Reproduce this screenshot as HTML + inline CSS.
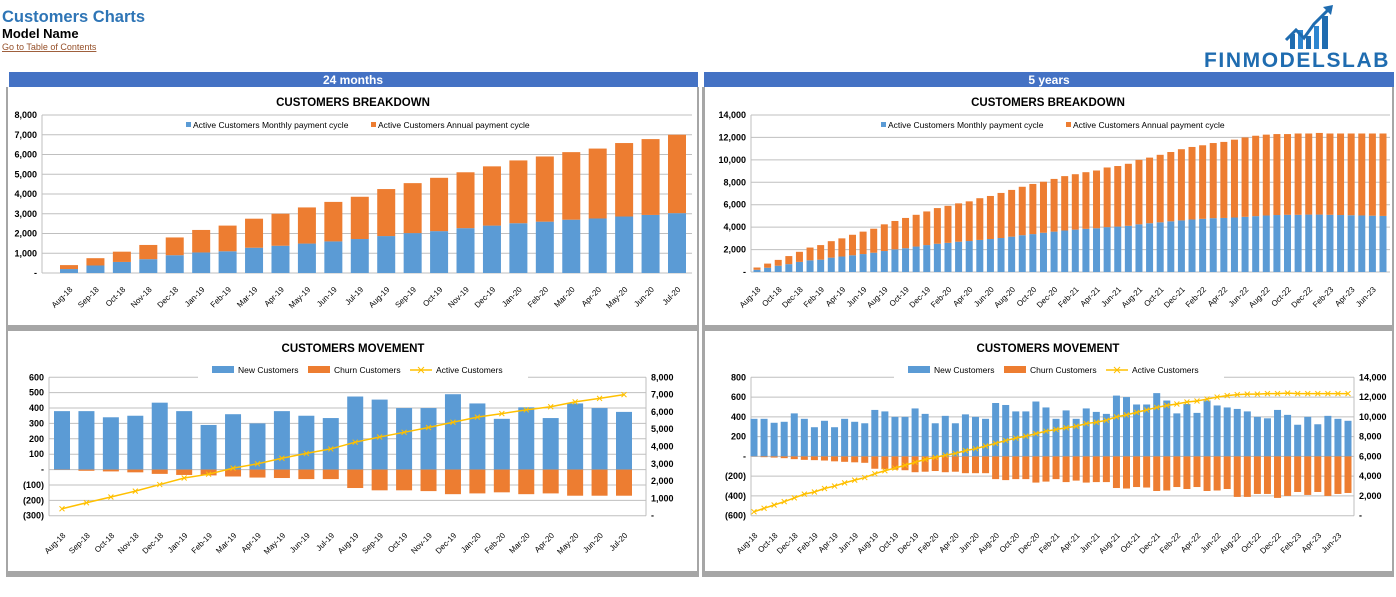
<!DOCTYPE html>
<html><head><meta charset="utf-8"><style>
body{margin:0;background:#fff;width:1396px;height:597px;overflow:hidden;font-family:"Liberation Sans","DejaVu Sans",sans-serif}
svg{position:absolute;left:0;top:0}
</style></head><body>
<svg id="s" width="1396" height="597" xmlns="http://www.w3.org/2000/svg">
<text x="2" y="22" font-size="16.5" font-weight="bold" fill="#2E75B6">Customers Charts</text>
<text x="2" y="38" font-size="13" font-weight="bold" fill="#000">Model Name</text>
<text x="2" y="50" font-size="9" fill="#954F28" text-decoration="underline">Go to Table of Contents</text>
<g>
<rect x="1290" y="34" width="5" height="15" fill="#1F6CB0"/><rect x="1298" y="30" width="5" height="19" fill="#2E86D0"/>
<rect x="1306" y="36" width="5" height="13" fill="#1F6CB0"/><rect x="1314" y="26" width="5" height="23" fill="#2E86D0"/>
<rect x="1322" y="16" width="6" height="33" fill="#1F6CB0"/>
<polyline points="1286,40 1296,30 1304,38 1314,24 1328,10" fill="none" stroke="#1F6CB0" stroke-width="3"/>
<polygon points="1323,7 1333,5 1331,15" fill="#1F6CB0"/>
<text x="1204" y="67" font-size="21" font-weight="bold" fill="#1F6CB0" letter-spacing="1.6">FINMODELSLAB</text>
</g>
<rect x="9" y="72" width="689" height="15" fill="#4472C4"/>
<text x="353" y="84" font-size="12" font-weight="bold" fill="#fff" text-anchor="middle">24 months</text>
<rect x="704" y="72" width="690" height="15" fill="#4472C4"/>
<text x="1049" y="84" font-size="12" font-weight="bold" fill="#fff" text-anchor="middle">5 years</text>
<g fill="#A6A6A6">
<rect x="6" y="87" width="2" height="490"/><rect x="697" y="87" width="2" height="490"/>
<rect x="8" y="325" width="691" height="6"/><rect x="8" y="571" width="691" height="6"/>
<rect x="702" y="87" width="3" height="490"/><rect x="1392" y="87" width="2" height="490"/>
<rect x="704" y="325" width="690" height="6"/><rect x="704" y="571" width="690" height="6"/>
</g>
<g id="g"></g>
</svg>
<script>
const months24 = ["Aug-18","Sep-18","Oct-18","Nov-18","Dec-18","Jan-19","Feb-19","Mar-19","Apr-19","May-19","Jun-19","Jul-19","Aug-19","Sep-19","Oct-19","Nov-19","Dec-19","Jan-20","Feb-20","Mar-20","Apr-20","May-20","Jun-20","Jul-20"];
const total24 = [400,750,1080,1420,1800,2180,2400,2750,3000,3320,3600,3860,4250,4550,4820,5100,5400,5700,5900,6120,6300,6580,6780,7000];
const monthly24 = [200,380,560,700,900,1040,1100,1280,1380,1490,1600,1720,1870,2020,2120,2270,2400,2520,2600,2700,2760,2860,2940,3030];
const new24 = [380,380,340,350,435,380,290,360,300,380,350,335,475,455,400,400,490,430,330,405,335,430,400,375];
const churn24 = [-2,-8,-12,-18,-28,-35,-38,-45,-52,-55,-62,-62,-120,-135,-135,-140,-160,-155,-148,-160,-155,-170,-170,-170];
const months60 = ["Aug-18","Sep-18","Oct-18","Nov-18","Dec-18","Jan-19","Feb-19","Mar-19","Apr-19","May-19","Jun-19","Jul-19","Aug-19","Sep-19","Oct-19","Nov-19","Dec-19","Jan-20","Feb-20","Mar-20","Apr-20","May-20","Jun-20","Jul-20","Aug-20","Sep-20","Oct-20","Nov-20","Dec-20","Jan-21","Feb-21","Mar-21","Apr-21","May-21","Jun-21","Jul-21","Aug-21","Sep-21","Oct-21","Nov-21","Dec-21","Jan-22","Feb-22","Mar-22","Apr-22","May-22","Jun-22","Jul-22","Aug-22","Sep-22","Oct-22","Nov-22","Dec-22","Jan-23","Feb-23","Mar-23","Apr-23","May-23","Jun-23","Jul-23"];
const total60 = [400,750,1080,1420,1800,2180,2400,2750,3000,3320,3600,3860,4250,4550,4820,5100,5400,5700,5900,6120,6300,6580,6780,7050,7320,7600,7850,8050,8300,8550,8720,8900,9050,9320,9450,9650,10000,10200,10450,10700,10950,11150,11300,11500,11600,11800,12000,12150,12250,12300,12300,12350,12350,12400,12350,12350,12350,12350,12350,12350];
const monthly60 = [200,380,560,700,900,1040,1100,1280,1380,1490,1600,1720,1870,2020,2120,2270,2400,2520,2600,2700,2760,2860,2940,3030,3150,3280,3380,3500,3600,3700,3780,3850,3900,4000,4050,4120,4250,4350,4430,4520,4600,4680,4740,4800,4820,4860,4920,4980,5040,5080,5100,5100,5120,5120,5100,5080,5060,5040,5020,5000];
const new60 = [380,380,340,350,435,380,295,360,295,380,350,335,470,455,400,400,485,430,335,410,335,425,400,380,540,520,455,455,555,495,380,465,380,485,450,430,615,600,525,525,640,565,435,530,440,565,515,495,480,455,400,385,470,420,320,400,325,410,380,360];
const churn60 = [-2,-8,-12,-18,-28,-35,-38,-42,-50,-55,-60,-65,-125,-130,-135,-140,-160,-155,-148,-160,-155,-170,-170,-170,-230,-240,-230,-230,-265,-255,-230,-260,-245,-265,-260,-260,-320,-325,-310,-315,-350,-345,-310,-330,-310,-350,-345,-330,-410,-410,-380,-380,-420,-400,-360,-390,-360,-400,-380,-370];
const ticksBreak24 = [0,1000,2000,3000,4000,5000,6000,7000,8000];
const ticksBreak60 = [0,2000,4000,6000,8000,10000,12000,14000];
const ticksMove24 = [-300,-200,-100,0,100,200,300,400,500,600];
const ticksMove24R = [0,1000,2000,3000,4000,5000,6000,7000,8000];
const ticksMove60 = [-600,-400,-200,0,200,400,600,800];
const ticksMove60R = [0,2000,4000,6000,8000,10000,12000,14000];

const NS="http://www.w3.org/2000/svg", G=document.getElementById('g');
const BLUE="#5B9BD5", ORANGE="#ED7D31", GOLD="#FFC000";
function mk(tag,attrs,parent){const e=document.createElementNS(NS,tag);for(const k in attrs)e.setAttribute(k,attrs[k]);(parent||G).appendChild(e);return e;}
function fmt(v){if(v===0)return "-";const s=Math.abs(v).toLocaleString("en-US");return v<0?"("+s+")":s;}
function txt(x,y,s,size,anchor,weight,parent){const t=mk('text',{x:x,y:y,'font-size':size,'text-anchor':anchor||'start','font-weight':weight||'normal',fill:'#000'},parent);t.textContent=s;return t;}

function axisFns(c){
  const n=c.n, step=(c.lastX-c.firstX)/(n-1);
  const xs=i=>c.firstX+i*step;
  const ys=v=>c.y0+(v-c.vmin)/(c.vmax-c.vmin)*(c.y1-c.y0);
  return {xs,ys};
}
function grid(c,ys,ticks,g){
  ticks.forEach(v=>{
    const y=ys(v);
    const l=mk('line',{x1:c.left,x2:c.right,y1:y,y2:y,stroke:'#BFBFBF','stroke-width':1},g);
    
    
    const t=txt(c.left-5,y+3,fmt(v),9,'end','bold',g);
    
    
  });
  mk('line',{x1:c.left,x2:c.left,y1:c.y1,y2:c.y0,stroke:'#BFBFBF'},g);
}
function xlabels(c,xs,labels,every,g){
  labels.forEach((m,i)=>{
    if(i%every)return;
    const x=xs(i)+4,y=c.labY;
    const t=txt(x,y,m,8,'end','normal',g);
    t.setAttribute('transform','rotate(-45 '+x+' '+y+')');
    
    
  });
}
function legendItem(x,y,color,label,kind,g){
  if(kind==='line'){mk('line',{x1:x,x2:x+22,y1:y,y2:y,stroke:GOLD,'stroke-width':1.5},g);
    mk('path',{d:`M${x+8} ${y-3}l6 6M${x+14} ${y-3}l-6 6`,stroke:GOLD,'stroke-width':1},g);txt(x+26,y+3,label,8.5,'start','normal',g);}
  else if(kind==='wide'){mk('rect',{x:x,y:y-4,width:22,height:7,fill:color},g);txt(x+26,y+3,label,8.5,'start','normal',g);}
  else {mk('rect',{x:x,y:y-3,width:5,height:5,fill:color},g);txt(x+7,y+3,label,8.5,'start','normal',g);}
}

function breakdown(c,labels,total,monthly,ticks,every,name){
  const g=mk('g',{});
  
  
  const {xs,ys}=axisFns(c);
  txt(c.titleX,106,'CUSTOMERS BREAKDOWN',11.5,'middle','bold',g);
  grid(c,ys,ticks,g);
  const lg=mk('g',{},g);
  
  
  mk('rect',{x:c.legX-4,y:118,width:350,height:14,fill:'#fff'},lg);
  legendItem(c.legX,125,BLUE,'Active Customers Monthly payment cycle','sq',lg);
  legendItem(c.legX+185,125,ORANGE,'Active Customers Annual payment cycle','sq',lg);
  total.forEach((t,i)=>{
    const x=xs(i)-c.bw/2, m=monthly[i];
    const b=mk('rect',{x:x,y:ys(m),width:c.bw,height:ys(0)-ys(m),fill:BLUE},g);
    
    
    const o=mk('rect',{x:x,y:ys(t),width:c.bw,height:ys(m)-ys(t),fill:ORANGE},g);
    
    
  });
  xlabels(c,xs,labels,every,g);
}
function movement(c,labels,nw,churn,active,ticks,ticksR,every,name){
  const g=mk('g',{});
  
  
  const {xs,ys}=axisFns(c);
  const yr=v=>c.y0+(v-c.rmin)/(c.rmax-c.rmin)*(c.y1-c.y0);
  txt(c.titleX,352,'CUSTOMERS MOVEMENT',11.5,'middle','bold',g);
  grid(c,ys,ticks,g);
  mk('line',{x1:c.right,x2:c.right,y1:c.y1,y2:c.y0,stroke:'#BFBFBF'},g);
  ticksR.forEach(v=>{const t=txt(c.right+5,yr(v)+3,fmt(v),9,'start','bold',g);
    
    });
  const lg=mk('g',{},g);
  
  
  mk('rect',{x:c.legX-14,y:362,width:330,height:16,fill:'#fff'},lg);
  legendItem(c.legX,370,BLUE,'New Customers','wide',lg);
  legendItem(c.legX+96,370,ORANGE,'Churn Customers','wide',lg);
  legendItem(c.legX+198,370,GOLD,'Active Customers','line',lg);
  nw.forEach((v,i)=>{
    const x=xs(i)-c.bw/2;
    const b=mk('rect',{x:x,y:ys(v),width:c.bw,height:ys(0)-ys(v),fill:BLUE},g);
    
    
    const o=mk('rect',{x:x,y:ys(0),width:c.bw,height:ys(churn[i])-ys(0),fill:ORANGE},g);
    
    
  });
  const pts=active.map((v,i)=>xs(i)+','+yr(v)).join(' ');
  const pl=mk('polyline',{points:pts,fill:'none',stroke:GOLD,'stroke-width':1.5},g);
  
  
  active.forEach((v,i)=>{const x=xs(i),y=yr(v);
    mk('path',{d:`M${x-2.5} ${y-2.5}l5 5M${x+2.5} ${y-2.5}l-5 5`,stroke:GOLD,'stroke-width':1},g);});
  xlabels(c,xs,labels,every,g);
}

breakdown({n:24,firstX:69,lastX:677,left:42,right:692,y0:273,y1:115,vmin:0,vmax:8000,bw:18,labY:290,titleX:353,legX:186},months24,total24,monthly24,ticksBreak24,1,'chart-breakdown-24m');
breakdown({n:60,firstX:757,lastX:1383,left:751,right:1390,y0:272,y1:115,vmin:0,vmax:14000,bw:7,labY:290,titleX:1048,legX:881},months60,total60,monthly60,ticksBreak60,2,'chart-breakdown-5y');
movement({n:24,firstX:62,lastX:624,left:49,right:646,y0:515.7,y1:377.3,vmin:-300,vmax:600,rmin:0,rmax:8000,bw:16,labY:536,titleX:353,legX:212},months24,new24,churn24,total24,ticksMove24,ticksMove24R,1,'chart-movement-24m');
movement({n:60,firstX:754,lastX:1348,left:751,right:1354,y0:515.7,y1:377.3,vmin:-600,vmax:800,rmin:0,rmax:14000,bw:7,labY:536,titleX:1048,legX:908},months60,new60,churn60,total60,ticksMove60,ticksMove60R,2,'chart-movement-5y');
</script>
</body></html>
